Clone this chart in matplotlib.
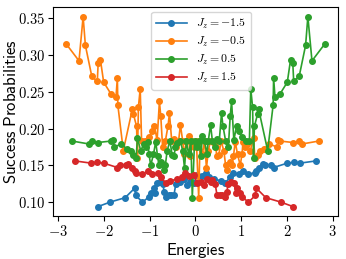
import numpy as np
import matplotlib
matplotlib.use('Agg')
import matplotlib.pyplot as plt
from matplotlib.ticker import FuncFormatter, MultipleLocator

plt.rcParams['mathtext.fontset'] = 'cm'

# J_z = -1.5
e_m15 = [-2.13, -1.87, -1.54, -1.33, -1.31, -1.16, -1.02, -0.97, -0.91, -0.89,
         -0.84, -0.77, -0.71, -0.69, -0.65, -0.58, -0.54, -0.47, -0.43, -0.36,
         -0.33, -0.26, -0.19, -0.11, -0.04, 0.04, 0.15, 0.22, 0.29, 0.41,
         0.56, 0.65, 0.76, 0.83, 0.96, 1.04, 1.16, 1.30, 1.33, 1.39,
         1.47, 1.53, 1.66, 1.71, 2.01, 2.16, 2.29, 2.64]
p_m15 = [0.094, 0.100, 0.106, 0.119, 0.109, 0.100, 0.107, 0.112, 0.119, 0.112,
         0.126, 0.127, 0.125, 0.114, 0.107, 0.110, 0.110, 0.110, 0.125, 0.130,
         0.128, 0.131, 0.123, 0.128, 0.126, 0.137, 0.135, 0.139, 0.134, 0.131,
         0.129, 0.126, 0.134, 0.139, 0.138, 0.142, 0.138, 0.140, 0.142, 0.146,
         0.152, 0.150, 0.151, 0.147, 0.153, 0.154, 0.153, 0.156]

# J_z = -0.5
e_m05 = [-2.83, -2.55, -2.46, -2.41, -2.27, -2.15, -2.13, -2.08, -2.01, -1.85,
         -1.74, -1.71, -1.70, -1.58, -1.38, -1.36, -1.29, -1.27, -1.25, -1.21,
         -1.18, -1.10, -1.02, -0.95, -0.90, -0.84, -0.79, -0.76, -0.72, -0.66,
         -0.60, -0.57, -0.52, -0.48, -0.42, -0.37, -0.33, -0.28, -0.25, -0.20,
         -0.15, -0.12, -0.08, -0.04, 0.02, 0.07, 0.10, 0.15, 0.20, 0.24,
         0.28, 0.33, 0.40, 0.44, 0.47, 0.51, 0.56, 0.62, 0.66, 0.70,
         0.75, 0.80, 0.83, 0.87, 0.92, 0.98, 1.02, 1.04, 1.09, 1.13,
         1.20, 1.27, 1.30, 1.36, 1.42, 1.50, 1.62, 1.78, 1.81, 1.85,
         2.14, 2.27, 2.33, 2.70]
p_m05 = [0.315, 0.292, 0.352, 0.313, 0.271, 0.264, 0.289, 0.293, 0.263, 0.247,
         0.243, 0.269, 0.232, 0.170, 0.227, 0.220, 0.203, 0.160, 0.229, 0.254,
         0.183, 0.183, 0.188, 0.196, 0.204, 0.184, 0.237, 0.217, 0.175, 0.183,
         0.204, 0.221, 0.183, 0.186, 0.175, 0.183, 0.205, 0.183, 0.165, 0.183,
         0.190, 0.163, 0.183, 0.175, 0.183, 0.106, 0.183, 0.165, 0.183, 0.146,
         0.170, 0.183, 0.180, 0.175, 0.162, 0.164, 0.183, 0.170, 0.150, 0.144,
         0.155, 0.150, 0.162, 0.182, 0.165, 0.150, 0.166, 0.182, 0.175, 0.179,
         0.170, 0.187, 0.160, 0.164, 0.169, 0.172, 0.179, 0.175, 0.184, 0.183,
         0.181, 0.183, 0.179, 0.183]

# J_z = 0.5
e_p05 = [-2.70, -2.33, -2.27, -2.14, -1.85, -1.81, -1.78, -1.62, -1.50, -1.42,
         -1.36, -1.30, -1.27, -1.20, -1.13, -1.09, -1.04, -1.02, -0.98, -0.92,
         -0.87, -0.83, -0.80, -0.75, -0.70, -0.66, -0.62, -0.56, -0.51, -0.47,
         -0.44, -0.40, -0.33, -0.28, -0.24, -0.20, -0.15, -0.10, -0.07, -0.02,
         0.04, 0.08, 0.12, 0.15, 0.20, 0.25, 0.28, 0.33, 0.37, 0.42,
         0.48, 0.52, 0.57, 0.60, 0.66, 0.72, 0.76, 0.79, 0.84, 0.90,
         0.95, 1.02, 1.10, 1.18, 1.21, 1.25, 1.27, 1.29, 1.36, 1.38,
         1.58, 1.70, 1.71, 1.74, 1.85, 2.01, 2.08, 2.13, 2.15, 2.27,
         2.41, 2.46, 2.55, 2.83]
p_p05 = [0.183, 0.179, 0.183, 0.181, 0.183, 0.184, 0.175, 0.179, 0.172, 0.169,
         0.164, 0.160, 0.187, 0.170, 0.179, 0.175, 0.182, 0.166, 0.150, 0.165,
         0.182, 0.162, 0.150, 0.155, 0.144, 0.150, 0.170, 0.183, 0.164, 0.162,
         0.175, 0.180, 0.183, 0.170, 0.146, 0.183, 0.165, 0.183, 0.106, 0.183,
         0.175, 0.183, 0.163, 0.190, 0.183, 0.165, 0.183, 0.205, 0.183, 0.175,
         0.186, 0.183, 0.221, 0.204, 0.183, 0.175, 0.217, 0.237, 0.184, 0.204,
         0.196, 0.188, 0.183, 0.183, 0.254, 0.229, 0.160, 0.203, 0.220, 0.227,
         0.170, 0.232, 0.269, 0.243, 0.247, 0.263, 0.293, 0.289, 0.264, 0.271,
         0.313, 0.352, 0.292, 0.315]

# J_z = 1.5
e_p15 = [-2.64, -2.29, -2.16, -2.01, -1.71, -1.66, -1.53, -1.47, -1.39, -1.33,
         -1.30, -1.16, -1.04, -0.96, -0.83, -0.76, -0.65, -0.56, -0.41, -0.29,
         -0.22, -0.15, -0.04, 0.04, 0.11, 0.19, 0.26, 0.33, 0.36, 0.43,
         0.47, 0.54, 0.58, 0.65, 0.69, 0.71, 0.77, 0.84, 0.89, 0.91,
         0.97, 1.02, 1.16, 1.31, 1.33, 1.54, 1.87, 2.13]
p_p15 = [0.156, 0.153, 0.154, 0.153, 0.147, 0.151, 0.150, 0.152, 0.146, 0.142,
         0.140, 0.138, 0.142, 0.138, 0.139, 0.134, 0.126, 0.129, 0.131, 0.134,
         0.139, 0.135, 0.137, 0.126, 0.128, 0.123, 0.131, 0.128, 0.130, 0.125,
         0.110, 0.110, 0.110, 0.107, 0.114, 0.125, 0.127, 0.126, 0.112, 0.119,
         0.112, 0.107, 0.100, 0.109, 0.119, 0.106, 0.100, 0.094]

series = [
    (e_m15, p_m15, r'$J_z = -1.5$', 'C0'),
    (e_m05, p_m05, r'$J_z = -0.5$', 'C1'),
    (e_p05, p_p05, r'$J_z = 0.5$', 'C2'),
    (e_p15, p_p15, r'$J_z = 1.5$', 'C3'),
]

fig = plt.figure(figsize=(3.46, 2.59), dpi=100)
ax = fig.add_axes([0.154, 0.166, 0.822, 0.806])

for e, p, lab, c in series:
    ax.plot(e, p, marker='o', markersize=4, linewidth=1.2, color=c, label=lab)

ax.xaxis.set_major_locator(MultipleLocator(1))
ax.yaxis.set_major_locator(MultipleLocator(0.05))
ax.xaxis.set_major_formatter(FuncFormatter(lambda v, pos: r'$%d$' % round(v)))
ax.yaxis.set_major_formatter(FuncFormatter(lambda v, pos: r'$%.2f$' % v))
ax.tick_params(labelsize=10.5, pad=2.5)

ax.set_xlabel(r'$\mathsf{Energies}$', fontsize=12, labelpad=1)
ax.set_ylabel(r'$\mathsf{Success\ Probabilities}$', fontsize=12)
ax.yaxis.set_label_coords(-0.118, 0.5)

ax.legend(loc='upper center', fontsize=8.5, bbox_to_anchor=(0.52, 1.0),
          handlelength=2.6, labelspacing=0.35, borderaxespad=0.4)

fig.savefig('out.png', dpi=100)
